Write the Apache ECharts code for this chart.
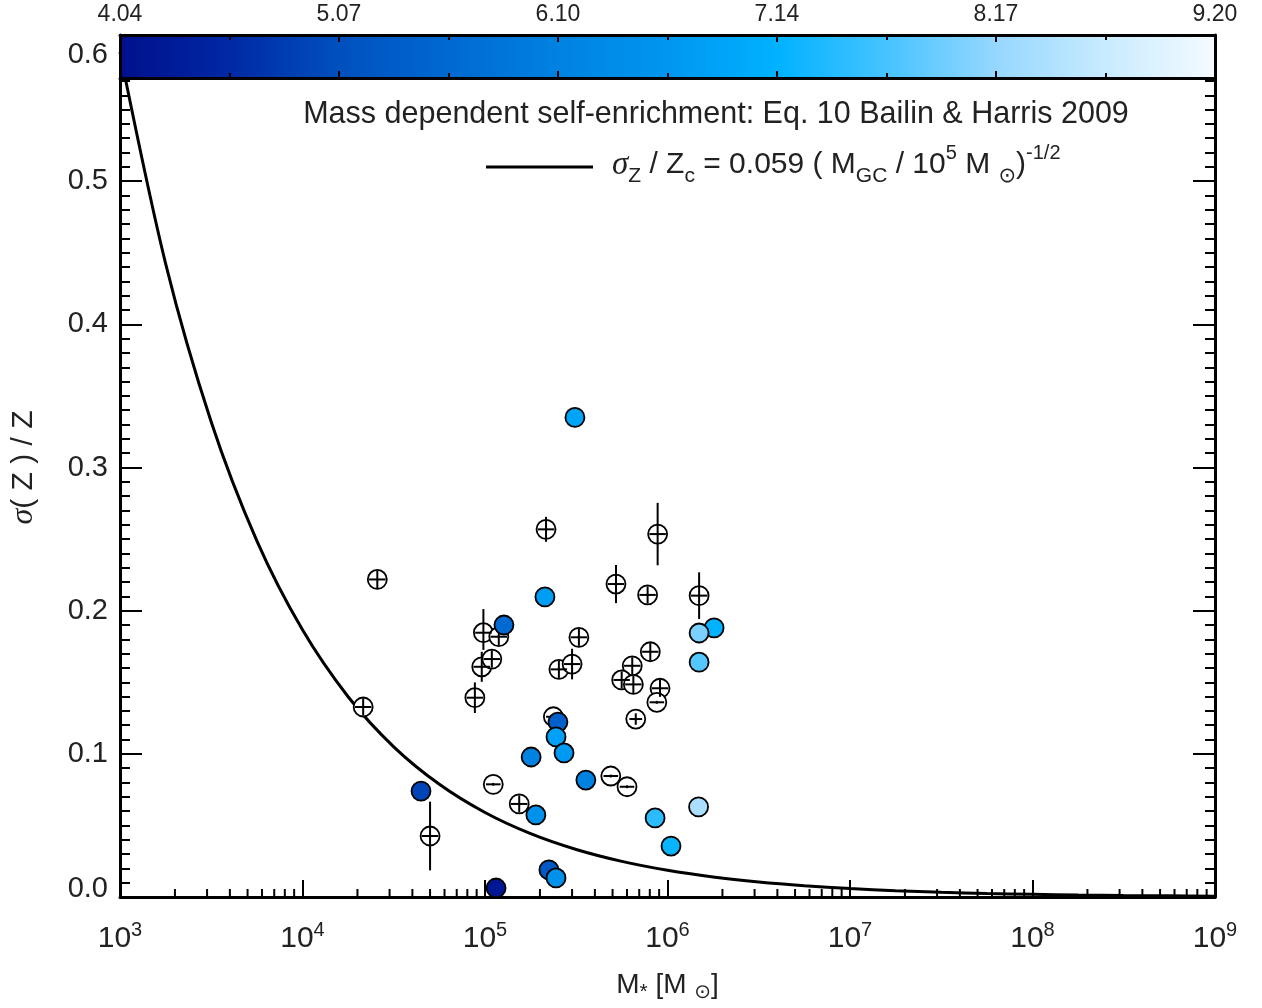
<!DOCTYPE html>
<html><head><meta charset="utf-8">
<script src="https://cdn.jsdelivr.net/npm/echarts@6/dist/echarts.min.js"></script>
<style>html,body{margin:0;padding:0;background:#fff}#c{width:1262px;height:1008px}</style>
</head><body><div id="c"></div>
<script>
// ---- filled (coloured) points: stellar mass, sigma(Z)/Z, colour value ----
const filledMass  = [3.11e5, 2.13e5, 1.27e5, 1.80e6, 1.49e6, 1.49e6, 2.51e5, 2.45e5, 2.71e5, 1.79e5, 3.57e5, 4.46e4, 1.90e5, 8.55e5, 1.48e6, 1.045e6, 2.24e5, 2.45e5, 1.15e5];
const filledSigma = [0.335, 0.2096, 0.190, 0.188, 0.1844, 0.164, 0.1222, 0.1118, 0.1006, 0.0978, 0.0817, 0.074, 0.0573, 0.0552, 0.0629, 0.0356, 0.0189, 0.0133, 0.0063];
const filledColor = [6.88, 6.75, 5.59, 7.14, 8.0, 7.75, 5.38, 6.83, 6.67, 6.10, 6.10, 4.92, 6.5, 7.45, 8.37, 7.2, 5.23, 6.5, 4.2];

// ---- open points with error bars: mass, sigma, mass error (dex), sigma error low/high ----
const openMass      = [2.15e4, 2.57e4, 9.8e4, 9.6e4, 1.09e5, 1.19e5, 8.8e4, 3.27e5, 2.54e5, 3.0e5, 2.37e5, 2.16e5, 8.83e5, 5.22e5, 7.78e5, 1.49e6, 8.05e5, 6.41e5, 5.61e5, 6.5e5, 9.1e5, 8.74e5, 6.7e5, 1.11e5, 1.54e5, 5.0e4, 4.89e5, 6.0e5];
const openSigma     = [0.1327, 0.2218, 0.1846, 0.1608, 0.1662, 0.1818, 0.1392, 0.1814, 0.159, 0.1627, 0.1259, 0.2568, 0.2535, 0.2186, 0.211, 0.2105, 0.1713, 0.1615, 0.1516, 0.1485, 0.1458, 0.136, 0.1243, 0.0787, 0.065, 0.0426, 0.0845, 0.077];
const openMassErr   = [0.045, 0.045, 0.045, 0.045, 0.045, 0.045, 0.045, 0.045, 0.045, 0.045, 0.04, 0.045, 0.045, 0.045, 0.045, 0.045, 0.045, 0.045, 0.045, 0.045, 0.045, 0.04, 0.035, 0.04, 0.045, 0.045, 0.04, 0.04];
const openSigmaErrLo= [0.006, 0.006, 0.012, 0.0105, 0.006, 0.006, 0.0107, 0.006, 0.006, 0.0107, 0.001, 0.0087, 0.0218, 0.0133, 0.006, 0.0163, 0.006, 0.006, 0.006, 0.006, 0.006, 0.001, 0.004, 0.001, 0.006, 0.024, 0.001, 0.001];
const openSigmaErrHi= [0.006, 0.006, 0.0165, 0.0105, 0.006, 0.006, 0.0107, 0.006, 0.006, 0.0107, 0.001, 0.0087, 0.0218, 0.0133, 0.006, 0.0163, 0.006, 0.006, 0.006, 0.006, 0.006, 0.001, 0.004, 0.001, 0.006, 0.024, 0.001, 0.001];

// ---- model curve (sigma_Z/Z_c = 0.059 (M/1e5)^-1/2), sampled values ----
const modelMass  = [1e3, 1.778e3, 3.162e3, 5.623e3, 1e4, 1.778e4, 3.162e4, 5.623e4, 1e5, 1.778e5, 3.162e5, 5.623e5, 1e6, 1.778e6, 3.162e6, 5.623e6, 1e7, 1.778e7, 3.162e7, 5.623e7, 1e8, 1.778e8, 3.162e8, 5.623e8, 1e9];
const modelSigma = [0.590, 0.4424, 0.3318, 0.2488, 0.1866, 0.1399, 0.1049, 0.0787, 0.059, 0.04424, 0.03318, 0.02488, 0.01866, 0.01399, 0.01049, 0.00787, 0.0059, 0.00442, 0.00332, 0.00249, 0.00187, 0.0014, 0.00105, 0.00079, 0.00059];

// ---- ticks ----
const xMinorTicks = [];
for (let e = 3; e < 9; e++) for (let k = 2; k <= 9; k++) xMinorTicks.push(k * Math.pow(10, e));
const colorbarTicks = ['4.04', '5.07', '6.10', '7.14', '8.17', '9.20'];
const colorbarMin = 4.04, colorbarMax = 9.20;
const cmap = ['#00108c', '#0028a5', '#0050be', '#0069d2', '#0082e1', '#0096f0', '#00b2ff', '#46c3ff', '#96d7ff', '#c8ebff', '#f5faff'];

const FONT = 'Liberation Sans';
const TXT = '#222';

const chart = echarts.init(document.getElementById('c'), null, {renderer: 'canvas'});

const axisLineStyle = {color: '#000', width: 3};
const tickStyle = {color: '#000', width: 2};

function renderErr(params, api) {
  const m = api.value(0), s = api.value(1), d = api.value(2), lo = api.value(3), hi = api.value(4);
  const l = api.coord([m / Math.pow(10, d), s]), r = api.coord([m * Math.pow(10, d), s]);
  const t = api.coord([m, s + hi]), b = api.coord([m, s - lo]);
  return {type: 'group', children: [
    {type: 'line', shape: {x1: l[0], y1: l[1], x2: r[0], y2: r[1]}, style: {stroke: '#000', lineWidth: 2}},
    {type: 'line', shape: {x1: t[0], y1: t[1], x2: b[0], y2: b[1]}, style: {stroke: '#000', lineWidth: 2}}
  ]};
}
function renderMinorTick(params, api) {
  const p = api.coord([api.value(0), 0]);
  return {type: 'line', shape: {x1: p[0], y1: p[1], x2: p[0], y2: p[1] - 8}, style: {stroke: '#000', lineWidth: 2}};
}
function renderColorbar(params, api) {
  const p0 = api.coord([api.value(0), 1]), p1 = api.coord([api.value(1), 0]);
  const stops = cmap.map((c, i) => ({offset: i / (cmap.length - 1), color: c}));
  return {type: 'rect', shape: {x: p0[0], y: p0[1], width: p1[0] - p0[0], height: p1[1] - p0[1]},
    style: {fill: new echarts.graphic.LinearGradient(0, 0, 1, 0, stops)}};
}

const option = {
  animation: false,
  backgroundColor: '#fff',
  grid: [
    {left: 120, right: 47, top: 38, bottom: 111},
    {left: 120, right: 47, top: 35, height: 43}
  ],
  xAxis: [
    {type: 'log', logBase: 10, min: 1e3, max: 1e9, splitNumber: 6, gridIndex: 0,
     axisLine: {onZero: false, lineStyle: axisLineStyle},
     axisTick: {inside: true, length: 17, lineStyle: tickStyle},
     splitLine: {show: false},
     axisLabel: {margin: 23, formatter: v => '{b|10}{s|' + Math.round(Math.log10(v)) + '}',
       rich: {b: {fontSize: 30, fontFamily: FONT, color: TXT, lineHeight: 38},
              s: {fontSize: 20, fontFamily: FONT, color: TXT, verticalAlign: 'top', lineHeight: 38}}},
     name: '{n|M}{sub|*}{n| [M }{sun|⊙}{n|]}', nameLocation: 'middle', nameGap: 70,
     nameTextStyle: {rich: {
       n: {fontSize: 28, fontFamily: FONT, color: TXT, lineHeight: 36},
       sub: {fontSize: 21, fontFamily: FONT, color: TXT, verticalAlign: 'bottom', lineHeight: 30},
       sun: {fontSize: 20, fontFamily: 'DejaVu Sans', color: TXT, verticalAlign: 'bottom', lineHeight: 30}}}},
    {type: 'log', logBase: 10, min: 1e3, max: 1e9, gridIndex: 0, position: 'top', show: false},
    {type: 'value', gridIndex: 1, min: 0, max: 5, interval: 1, position: 'top', z: 10,
     axisLine: {onZero: false, lineStyle: axisLineStyle},
     axisTick: {inside: true, length: 7, lineStyle: tickStyle},
     minorTick: {show: true, splitNumber: 2, length: 5, lineStyle: tickStyle},
     splitLine: {show: false},
     axisLabel: {margin: 9, fontSize: 23, fontFamily: FONT, color: TXT, formatter: v => colorbarTicks[Math.round(v)]}},
    {type: 'value', gridIndex: 1, min: 0, max: 5, interval: 1, position: 'bottom', z: 10,
     axisLine: {onZero: false, lineStyle: axisLineStyle},
     axisTick: {inside: true, length: 7, lineStyle: tickStyle},
     minorTick: {show: true, splitNumber: 2, length: 5, lineStyle: tickStyle},
     splitLine: {show: false}, axisLabel: {show: false}}
  ],
  yAxis: [
    {type: 'value', min: 0, max: 0.6, interval: 0.1, gridIndex: 0,
     axisLine: {onZero: false, lineStyle: axisLineStyle},
     axisTick: {inside: true, length: 22, lineStyle: tickStyle},
     minorTick: {show: true, splitNumber: 10, length: 10, lineStyle: tickStyle},
     splitLine: {show: false},
     axisLabel: {margin: 12,
       formatter: v => {
         const t = v.toFixed(1);
         if (v <= 0) return '{lo|' + t + '}';
         if (v >= 0.6) return '{hi|' + t + '}';
         return '{n|' + t + '}';
       },
       rich: {
         n: {fontSize: 29, fontFamily: FONT, color: TXT},
         lo: {fontSize: 29, fontFamily: FONT, color: TXT, padding: [0, 0, 16, 0]},
         hi: {fontSize: 29, fontFamily: FONT, color: TXT, padding: [34, 0, 0, 0]}
       }},
     name: '{sig|σ}{n|( Z ) / Z}', nameLocation: 'middle', nameGap: 80, nameRotate: 90,
     nameTextStyle: {rich: {
       n: {fontSize: 30, fontFamily: FONT, color: TXT},
       sig: {fontSize: 32, fontFamily: 'Liberation Serif', fontStyle: 'italic', color: TXT}}}},
    {type: 'value', min: 0, max: 0.6, interval: 0.1, gridIndex: 0, position: 'right',
     axisLine: {onZero: false, lineStyle: axisLineStyle},
     axisTick: {inside: true, length: 22, lineStyle: tickStyle},
     minorTick: {show: true, splitNumber: 10, length: 10, lineStyle: tickStyle},
     splitLine: {show: false}, axisLabel: {show: false}},
    {type: 'value', min: 0, max: 1, gridIndex: 1, position: 'left', z: 10,
     axisLine: {onZero: false, lineStyle: axisLineStyle}, axisTick: {show: false}, axisLabel: {show: false}, splitLine: {show: false}},
    {type: 'value', min: 0, max: 1, gridIndex: 1, position: 'right', z: 10,
     axisLine: {onZero: false, lineStyle: axisLineStyle}, axisTick: {show: false}, axisLabel: {show: false}, splitLine: {show: false}}
  ],
  visualMap: {type: 'continuous', show: false, min: colorbarMin, max: colorbarMax, dimension: 2, seriesIndex: 4,
    inRange: {color: cmap}},
  series: [
    {type: 'custom', name: 'xminor', xAxisIndex: 0, yAxisIndex: 0, z: 1, silent: true,
     renderItem: renderMinorTick, data: xMinorTicks.map(v => [v, 0]), clip: false},
    {type: 'line', name: 'model', xAxisIndex: 0, yAxisIndex: 0, z: 2, silent: true, smooth: 0.3,
     showSymbol: false, symbol: 'none', lineStyle: {color: '#000', width: 3},
     data: modelMass.map((m, i) => [m, modelSigma[i]])},
    {type: 'scatter', name: 'open', xAxisIndex: 0, yAxisIndex: 0, z: 3, silent: true,
     symbol: 'circle', symbolSize: 19,
     itemStyle: {color: '#fff', borderColor: '#000', borderWidth: 1.8, opacity: 1},
     data: openMass.map((m, i) => [m, openSigma[i]])},
    {type: 'custom', name: 'err', xAxisIndex: 0, yAxisIndex: 0, z: 4, silent: true,
     renderItem: renderErr, encode: {x: 0, y: 1},
     data: openMass.map((m, i) => [m, openSigma[i], openMassErr[i], openSigmaErrLo[i], openSigmaErrHi[i]])},
    {type: 'scatter', name: 'filled', xAxisIndex: 0, yAxisIndex: 0, z: 5, silent: true,
     symbol: 'circle', symbolSize: 19,
     itemStyle: {borderColor: '#000', borderWidth: 1.8, opacity: 1},
     data: filledMass.map((m, i) => [m, filledSigma[i], filledColor[i]])},
    {type: 'custom', name: 'colorbar', xAxisIndex: 2, yAxisIndex: 2, z: 6, silent: true,
     renderItem: renderColorbar, data: [[0, 5]]}
  ],
  graphic: [
    {type: 'text', x: 716, y: 115, z: 20, silent: true,
     style: {text: 'Mass dependent self-enrichment: Eq. 10 Bailin & Harris 2009', fontSize: 30.5, fontFamily: FONT,
       fill: TXT, align: 'center', verticalAlign: 'middle'}},
    {type: 'line', z: 20, silent: true, shape: {x1: 486, y1: 167, x2: 593, y2: 167}, style: {stroke: '#000', lineWidth: 3}},
    {type: 'text', x: 612, y: 165, z: 20, silent: true,
     style: {text: '{sig|σ}{sub|Z}{n| / Z}{sub|c}{n| = 0.059 ( M}{sub|GC}{n| / 10}{sup|5}{n| M }{sun|⊙}{n|)}{sup|-1/2}',
       align: 'left', verticalAlign: 'middle',
       rich: {
         n: {fontSize: 30, fontFamily: FONT, fill: TXT, lineHeight: 44},
         sig: {fontSize: 33, fontFamily: 'Liberation Serif', fontStyle: 'italic', fill: TXT, lineHeight: 44},
         sub: {fontSize: 21, fontFamily: FONT, fill: TXT, verticalAlign: 'bottom', lineHeight: 24},
         sun: {fontSize: 21, fontFamily: 'DejaVu Sans', fill: TXT, verticalAlign: 'bottom', lineHeight: 24},
         sup: {fontSize: 20, fontFamily: FONT, fill: TXT, verticalAlign: 'top', lineHeight: 24}
       }}}
  ]
};
chart.setOption(option);
</script></body></html>
